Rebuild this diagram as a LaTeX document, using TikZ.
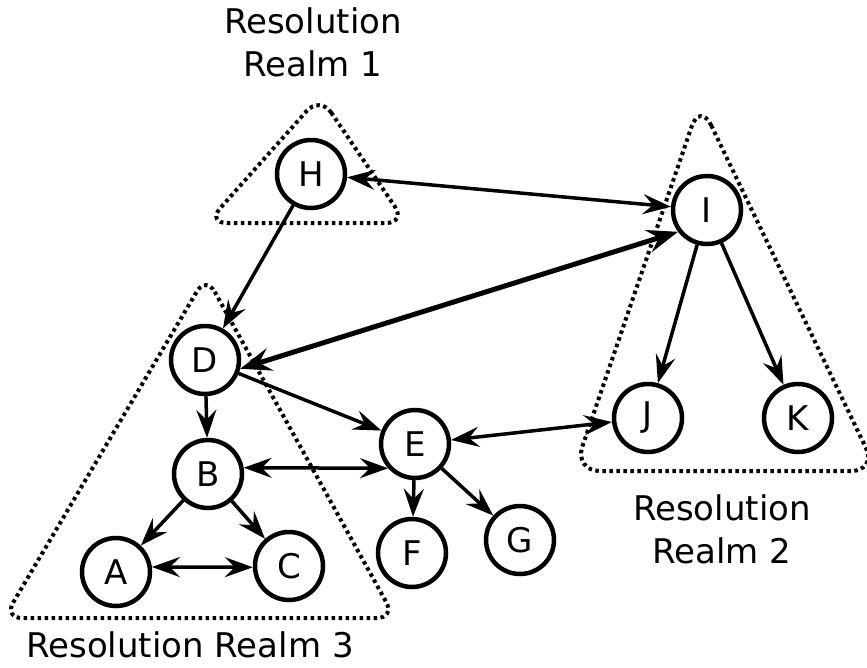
\documentclass[tikz,border=0pt]{standalone}
\usepackage{fontspec}
\setmainfont{DejaVu Sans}
\usetikzlibrary{arrows.meta}

\begin{document}
\begin{tikzpicture}[x=1pt,y=-1pt,
  vertex/.style={circle, draw, line width=4.5pt, minimum size=68pt, inner sep=0pt,
    font=\fontsize{34}{40}\selectfont},
  tip/.tip={Stealth[length=28pt,width=20pt,inset=10pt]},
  bigtip/.tip={Stealth[length=31pt,width=23pt,inset=11pt]},
  link/.style={line width=3.5pt, -tip},
  both/.style={line width=3.5pt, tip-tip},
  biglink/.style={line width=5pt, bigtip-bigtip},
  realm/.style={line width=4pt, dash pattern=on 3.5pt off 3.5pt},
  caption/.style={align=center, font=\fontsize{34}{43}\selectfont}]
\useasboundingbox (0,0) rectangle (867,667);

% resolution realms
\draw[realm, rounded corners=20pt] (320,96) -- (406,223) -- (207,223) -- cycle;
\draw[realm, rounded corners=26pt] (700,102) -- (877,471) -- (574,471) -- cycle;
\draw[realm, rounded corners=18pt] (206,276) -- (395,618) -- (4,618) -- cycle;

% vertices
\node[vertex] (H) at (311,174) {H};
\node[vertex] (I) at (707,210) {I};
\node[vertex] (J) at (648,418) {J};
\node[vertex] (K) at (798,418) {K};
\node[vertex] (D) at (205,360) {D};
\node[vertex] (B) at (208,474) {B};
\node[vertex] (A) at (116,572) {A};
\node[vertex] (C) at (289,566) {C};
\node[vertex] (E) at (415,444) {E};
\node[vertex] (F) at (412,553) {F};
\node[vertex] (G) at (520,540) {G};

% connectors
\draw[both] (H) -- (I);
\draw[link] (H) -- (D);
\draw[biglink] (D.-14) -- (I.217);
\draw[link] (D) -- (B);
\draw[link] (D) -- (E);
\draw[both] (B.10) -- (E.222);
\draw[link] (B) -- (A);
\draw[link] (B) -- (C);
\draw[both] (A.8) -- (C.182);
\draw[both] (E) -- (J);
\draw[link] (E) -- (F);
\draw[link] (E) -- (G);
\draw[link] (I) -- (J);
\draw[link] (I) -- (K);

% captions
\node[caption] (r1) at (313,42) {Resolution\\Realm 1};
\node[caption] (r2) at (722,529) {Resolution\\Realm 2};
\node[caption] (r3) at (190,645) {Resolution Realm 3};
\end{tikzpicture}
\end{document}
